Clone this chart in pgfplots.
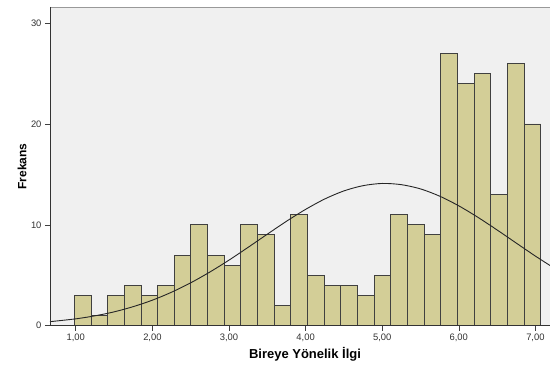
\documentclass[border=0pt]{standalone}
\usepackage{fontspec}
\setmainfont{Liberation Sans}
\usepackage{pgfplots}
\pgfplotsset{compat=1.18}
\definecolor{barfill}{HTML}{D3CE97}
\definecolor{bg}{HTML}{F0F0F0}
\begin{document}
\begin{tikzpicture}[x=1pt,y=1pt]
\path[use as bounding box] (-50,-41.3) rectangle (500,325.7);
\begin{axis}[
  at={(0,0)}, anchor=south west,
  scale only axis, width=500pt, height=318.7pt,
  xmin=0.6632, xmax=7.1906, ymin=0, ymax=31.59,
  axis background/.style={fill=bg},
  axis line style={black!40, line width=0.9pt},
  xtick={1,2,3,4,5,6,7},
  xticklabels={{1,00},{2,00},{3,00},{4,00},{5,00},{6,00},{7,00}},
  ytick={0,10,20,30},
  tick align=outside, tick pos=left, major tick length=5pt,
  tick style={black!75, line width=0.6pt},
  ticklabel style={font=\fontsize{9.4}{11}\selectfont, text=black!80},
  /pgf/number format/assume math mode=true,
  ylabel={Frekans},
  ylabel style={font=\fontsize{12}{14}\selectfont\bfseries, at={(axis description cs:-0.056,0.5)}, anchor=center},
  xlabel={Bireye Yönelik İlgi},
  xlabel style={font=\fontsize{13}{15}\selectfont\bfseries, at={(axis description cs:0.51,-0.0888)}, anchor=center},
]
\addplot[ybar interval, fill=barfill, draw=black!75, line width=0.8pt] coordinates {
(0.980,3) (1.1975,1) (1.415,3) (1.6325,4) (1.850,3) (2.0675,4) (2.285,7)
(2.5025,10) (2.720,7) (2.9375,6) (3.155,10) (3.3725,9) (3.590,2) (3.8075,11)
(4.025,5) (4.2425,4) (4.460,4) (4.6775,3) (4.895,5) (5.1125,11) (5.330,10)
(5.5475,9) (5.765,27) (5.9825,24) (6.200,25) (6.4175,13) (6.635,26) (6.8525,20)
(7.070,20)
};
\addplot[black!85, line width=0.9pt, smooth] coordinates {
(0.6632,0.40) (1.0,0.68) (1.25,0.98) (1.5,1.37) (1.75,1.89) (2.0,2.53)
(2.25,3.32) (2.5,4.25) (2.75,5.32) (3.0,6.50) (3.25,7.77) (3.5,9.07)
(3.75,10.35) (4.0,11.53) (4.25,12.56) (4.5,13.36) (4.75,13.88) (5.0,14.10)
(5.25,13.98) (5.5,13.56) (5.75,12.84) (6.0,11.88) (6.25,10.74) (6.5,9.49)
(6.75,8.19) (7.0,6.90) (7.1906,5.97)
};
\draw[black!80, line width=0.9pt] (rel axis cs:0,1) -- (rel axis cs:0,0) -- (rel axis cs:1,0);
\end{axis}
\end{tikzpicture}
\end{document}
